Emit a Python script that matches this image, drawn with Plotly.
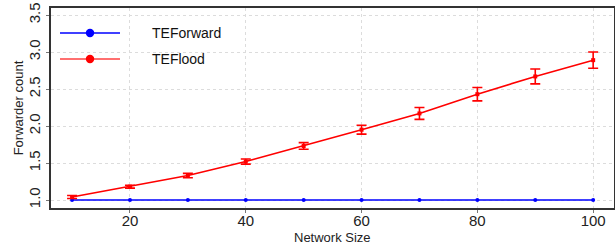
import plotly.graph_objects as go

network_size = [10, 20, 30, 40, 50, 60, 70, 80, 90, 100]
teforward = [1.0, 1.0, 1.0, 1.0, 1.0, 1.0, 1.0, 1.0, 1.0, 1.0]
teflood = [1.04, 1.18, 1.33, 1.52, 1.73, 1.95, 2.17, 2.43, 2.67, 2.89]
teflood_err = [0.02, 0.02, 0.03, 0.035, 0.045, 0.06, 0.08, 0.09, 0.1, 0.11]
series_names = ["TEForward", "TEFlood"]
series_colors = ["#0000ff", "#ff0000"]
x_title = "Network Size"
y_title = "Forwarder count"

FONT = "Liberation Sans, Arial"

fig = go.Figure()
fig.add_trace(go.Scatter(
    x=network_size, y=teforward, mode="lines+markers", name=series_names[0],
    line=dict(color=series_colors[0], width=1.6),
    marker=dict(color=series_colors[0], size=4, symbol="circle"),
    showlegend=False,
))
fig.add_trace(go.Scatter(
    x=network_size, y=teflood, mode="lines+markers", name=series_names[1],
    line=dict(color=series_colors[1], width=1.6),
    marker=dict(color=series_colors[1], size=4, symbol="square"),
    error_y=dict(type="data", array=teflood_err, color=series_colors[1], width=5, thickness=1.6),
    showlegend=False,
))

# custom legend (long line samples, as in the reference)
legend_y = [0.875, 0.745]
line_colors = ["#0000ff", "rgba(255,0,0,0.75)"]
for name, col, lc, ly in zip(series_names, series_colors, line_colors, legend_y):
    fig.add_shape(type="line", xref="paper", yref="paper",
                  x0=0.016, x1=0.1226, y0=ly, y1=ly,
                  line=dict(color=lc, width=1.6))
    fig.add_shape(type="circle", xref="paper", yref="paper",
                  x0=0.0693 - 0.0075, x1=0.0693 + 0.0075,
                  y0=ly - 0.021, y1=ly + 0.021,
                  fillcolor=col, line=dict(color=col, width=0))
    fig.add_annotation(text=name, xref="paper", yref="paper",
                       x=0.175, y=ly, xanchor="left", yanchor="middle",
                       showarrow=False,
                       font=dict(family=FONT, size=14, color="#111111"))

# x axis title placed close under the tick labels
fig.add_annotation(text=x_title, xref="paper", yref="paper",
                   x=0.5, y=-0.145, xanchor="center", yanchor="middle",
                   showarrow=False,
                   font=dict(family=FONT, size=13, color="#222222"))

axis_common = dict(
    showline=True, linecolor="#333333", linewidth=1.5, mirror=True,
    ticks="outside", ticklen=3, tickcolor="#777777", tickwidth=1,
    showgrid=True, gridcolor="#dcdcdc", griddash="dot", gridwidth=1,
    zeroline=False, automargin=False,
    tickfont=dict(family=FONT, size=15, color="#222222"),
    title_font=dict(family=FONT, size=13, color="#222222"),
)

fig.update_layout(
    width=615, height=246,
    margin=dict(l=51, r=1, t=8, b=38),
    paper_bgcolor="white", plot_bgcolor="white",
    showlegend=False,
    xaxis=dict(
        range=[6.36, 103.6], tickvals=[20, 40, 60, 80, 100],
        ticklabelstandoff=-5,
        **axis_common,
    ),
    yaxis=dict(
        range=[0.892, 3.595], tickvals=[1.0, 1.5, 2.0, 2.5, 3.0, 3.5],
        ticktext=["1.0", "1.5", "2.0", "2.5", "3.0", "3.5"],
        tickangle=-90,
        title=dict(text=y_title, standoff=0),
        **axis_common,
    ),
)

fig.write_html("out.html", config={"displayModeBar": False},
               post_script="document.body.style.margin='0';document.body.style.overflow='hidden';")
